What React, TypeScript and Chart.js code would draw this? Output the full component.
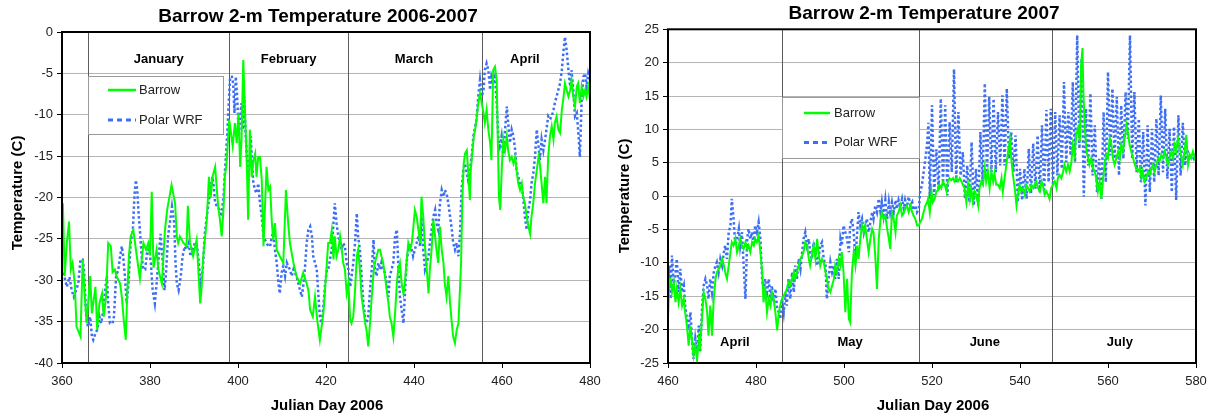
import React, { useEffect, useRef } from "react";
import { Chart, registerables } from "chart.js";

Chart.register(...registerables);

type Pt = [number, number];

// ---------- Left panel: Julian day 2006 vs temperature (C) ----------
const leftBarrow: Pt[] = [
  [360.2,-20.7],[360.6,-29.5],[361.1,-25.5],[361.6,-22.9],[362.0,-28.7],[362.4,-27.9],[362.9,-30.4],[363.3,-35.6],[364.2,-36.8],[364.7,-27.5],
  [365.2,-32.0],[365.6,-35.2],[366.4,-29.5],[366.8,-34.0],[367.6,-30.8],[368.0,-36.0],[368.5,-32.8],[369.1,-31.6],[369.5,-34.4],[370.0,-32.0],
  [370.5,-25.5],[371.1,-25.9],[371.5,-29.0],[372.0,-28.7],[372.4,-29.5],[373.2,-30.4],[373.6,-32.0],[374.1,-35.2],[374.5,-37.2],[374.8,-32.0],
  [375.2,-27.1],[375.6,-24.7],[376.2,-23.9],[377.0,-27.1],[377.7,-29.8],[378.5,-25.5],[379.1,-26.3],[379.6,-25.5],[380.0,-27.0],[380.4,-19.3],
  [380.8,-28.5],[381.5,-26.3],[381.9,-28.7],[382.7,-30.4],[383.4,-23.9],[383.9,-21.5],[384.9,-18.5],[385.7,-20.7],[386.1,-24.7],[386.4,-25.5],
  [386.8,-24.7],[387.6,-25.5],[388.3,-25.9],[388.6,-21.0],[389.1,-25.5],[389.8,-27.1],[390.6,-25.1],[391.4,-32.8],[391.7,-31.2],[392.1,-27.1],
  [392.9,-22.7],[393.4,-17.5],[393.8,-20.0],[394.2,-17.5],[394.8,-16.3],[395.2,-19.1],[395.5,-21.1],[395.9,-22.7],[396.3,-24.7],[396.7,-21.5],
  [397.0,-17.5],[397.4,-15.9],[398.0,-10.6],[398.3,-11.8],[398.8,-13.8],[399.3,-11.0],[399.7,-13.4],[400.1,-9.8],[400.5,-16.3],[400.8,-13.0],
  [401.2,-3.4],[401.6,-9.8],[402.0,-15.9],[402.3,-22.7],[402.7,-11.8],[403.1,-17.5],[403.5,-15.5],[403.9,-14.7],[404.2,-17.5],[404.6,-15.1],
  [405.0,-15.1],[405.4,-17.9],[405.8,-25.9],[406.1,-21.5],[406.5,-16.3],[406.9,-19.1],[407.3,-18.7],[407.7,-23.1],[408.0,-25.1],[408.4,-23.1],
  [408.8,-26.3],[409.5,-27.1],[410.3,-27.9],[410.9,-19.1],[411.4,-23.1],[411.8,-25.5],[412.6,-27.9],[413.3,-29.5],[414.1,-30.4],[414.8,-29.1],
  [415.6,-30.4],[416.0,-31.2],[416.4,-33.6],[417.0,-34.4],[417.5,-32.0],[418.0,-34.8],[418.6,-37.2],[419.4,-34.0],[420.2,-27.9],[420.5,-25.5],
  [420.9,-25.5],[421.3,-24.0],[421.7,-27.5],[422.0,-24.7],[422.4,-27.1],[422.8,-26.3],[423.2,-24.7],[423.6,-26.3],[423.9,-27.9],[424.3,-28.7],
  [424.7,-31.6],[425.1,-30.4],[425.5,-34.8],[425.8,-35.2],[426.2,-34.4],[426.6,-31.2],[427.0,-27.1],[427.3,-26.3],[427.7,-28.7],[428.1,-32.0],
  [428.5,-33.6],[428.9,-35.2],[429.2,-36.0],[429.6,-38.0],[430.0,-35.2],[430.4,-32.0],[430.8,-29.1],[431.1,-27.9],[431.5,-27.1],[431.9,-26.3],
  [432.3,-26.3],[432.6,-27.1],[433.0,-27.9],[433.4,-29.5],[433.8,-31.2],[434.2,-32.8],[434.5,-34.4],[434.9,-35.2],[435.3,-36.8],[435.7,-34.0],
  [436.1,-30.4],[436.4,-28.7],[436.8,-27.9],[437.2,-30.4],[437.6,-31.6],[437.9,-30.4],[438.3,-27.9],[438.7,-25.5],[439.1,-26.3],[439.5,-25.5],
  [439.8,-23.9],[440.2,-21.5],[440.6,-22.3],[441.0,-23.9],[441.4,-25.5],[441.7,-19.9],[442.1,-22.3],[442.5,-25.9],[442.9,-28.7],[443.3,-31.6],
  [443.6,-28.7],[444.0,-26.3],[444.4,-22.7],[444.8,-24.7],[445.1,-26.3],[445.5,-27.9],[445.9,-23.5],[446.3,-26.3],[446.7,-27.9],[447.0,-30.4],
  [447.4,-32.0],[447.8,-29.5],[448.2,-32.8],[448.6,-35.2],[448.9,-36.8],[449.3,-37.6],[449.7,-36.0],[450.1,-35.2],[450.5,-30.4],[450.7,-27.9],
  [451.0,-19.9],[451.3,-15.9],[451.6,-14.7],[452.0,-14.3],[452.3,-16.7],[452.7,-20.3],[452.9,-16.7],[453.3,-14.3],[453.6,-12.6],[453.9,-11.8],
  [454.2,-10.6],[454.6,-8.6],[455.0,-7.4],[455.4,-8.6],[455.8,-9.8],[456.1,-11.0],[456.5,-9.4],[456.9,-11.8],[457.3,-13.4],[457.6,-15.5],
  [458.0,-4.6],[458.4,-4.2],[458.8,-5.8],[459.0,-11.8],[459.3,-19.9],[459.6,-21.5],[460.0,-15.9],[460.3,-13.0],[460.7,-14.3],[461.1,-12.6],
  [461.4,-14.3],[461.8,-15.5],[462.2,-15.1],[462.6,-15.9],[463.0,-15.1],[463.3,-16.7],[463.7,-18.3],[464.1,-19.1],[464.5,-18.3],[464.8,-19.9],
  [465.2,-20.7],[465.6,-22.3],[466.0,-23.5],[466.4,-24.4],[466.7,-22.3],[467.1,-20.7],[467.5,-18.3],[467.9,-16.7],[468.3,-15.1],[468.6,-15.9],
  [469.0,-18.3],[469.4,-20.7],[469.8,-17.5],[470.1,-20.7],[470.5,-15.1],[470.9,-12.6],[471.3,-11.4],[471.7,-13.0],[472.0,-11.0],[472.4,-10.2],
  [472.8,-11.8],[473.2,-12.2],[473.6,-9.4],[474.0,-7.8],[474.3,-6.2],[474.7,-7.0],[475.1,-7.8],[475.5,-7.0],[475.8,-5.8],[476.2,-7.8],
  [476.6,-9.0],[477.0,-6.6],[477.3,-6.2],[477.7,-8.6],[478.1,-6.6],[478.5,-7.8],[478.9,-7.0],[479.2,-7.8],[479.6,-6.6],[480.0,-8.2]
];

const leftWrf: Pt[] = [
  [360.2,-29.1],[360.7,-29.9],[361.1,-30.8],[361.7,-29.6],[362.2,-31.2],[362.7,-32.0],[363.2,-31.2],[363.7,-30.4],[364.2,-27.5],[364.7,-27.5],
  [365.0,-28.7],[365.5,-34.4],[365.9,-35.6],[366.4,-34.4],[366.8,-36.8],[367.1,-37.2],[367.6,-36.4],[368.0,-36.0],[368.5,-34.4],[368.9,-35.2],
  [369.4,-33.6],[369.8,-31.2],[370.2,-29.5],[370.5,-32.8],[370.9,-35.2],[371.5,-35.2],[371.8,-34.4],[372.3,-29.5],[372.8,-28.7],[373.2,-27.1],
  [373.6,-25.9],[373.9,-27.1],[374.3,-29.5],[374.7,-32.8],[375.1,-30.4],[375.6,-25.5],[376.1,-23.9],[376.5,-19.5],[376.8,-17.9],[377.1,-19.1],
  [377.4,-21.9],[377.7,-23.9],[378.1,-27.1],[378.5,-28.7],[378.9,-28.7],[379.4,-26.3],[379.8,-26.3],[380.2,-27.9],[380.6,-31.2],[381.1,-32.8],
  [381.5,-30.4],[382.0,-27.1],[382.4,-24.4],[382.9,-27.9],[383.3,-31.2],[383.6,-29.5],[384.1,-24.7],[384.5,-23.1],[385.0,-21.1],[385.5,-23.1],
  [385.8,-27.9],[386.1,-30.4],[386.5,-31.2],[387.0,-29.5],[387.4,-27.1],[387.9,-25.9],[388.3,-26.3],[388.8,-25.5],[389.2,-27.1],[389.7,-26.3],
  [390.2,-25.5],[390.6,-25.5],[391.1,-27.9],[391.5,-30.4],[392.0,-28.7],[392.4,-24.7],[392.9,-22.3],[393.3,-20.7],[393.8,-18.7],[394.2,-17.5],
  [394.5,-18.7],[394.8,-20.7],[395.3,-21.1],[395.8,-21.5],[396.2,-22.3],[396.7,-19.9],[397.0,-17.1],[397.3,-14.7],[397.6,-11.8],[397.9,-8.6],
  [398.2,-5.4],[398.6,-5.4],[398.9,-6.2],[399.2,-9.8],[399.5,-5.4],[399.8,-7.8],[400.2,-12.6],[400.5,-10.2],[400.8,-8.6],[401.1,-11.8],
  [401.4,-7.8],[401.7,-11.8],[402.0,-15.1],[402.3,-17.1],[402.6,-15.9],[402.9,-12.6],[403.2,-15.9],[403.5,-18.3],[403.9,-19.1],[404.2,-19.5],
  [404.6,-18.3],[405.0,-20.7],[405.4,-22.3],[405.8,-24.7],[406.1,-25.1],[406.5,-25.5],[406.9,-25.9],[407.3,-25.9],[407.7,-24.7],[408.0,-24.3],
  [408.4,-26.3],[408.8,-27.9],[409.2,-30.4],[409.5,-31.6],[409.9,-29.1],[410.3,-28.3],[410.7,-29.5],[411.1,-27.9],[411.4,-28.3],[411.8,-28.7],
  [412.2,-29.5],[412.6,-28.7],[413.3,-29.5],[413.7,-30.4],[414.1,-31.2],[414.5,-32.0],[414.8,-30.8],[415.2,-28.7],[415.6,-25.5],[416.0,-23.9],
  [416.4,-23.5],[416.8,-24.7],[417.1,-27.1],[417.5,-27.9],[417.9,-28.7],[418.3,-32.0],[418.6,-34.4],[419.0,-35.2],[419.4,-33.2],[419.8,-30.4],
  [420.2,-28.7],[420.5,-28.7],[421.3,-26.3],[422.0,-20.7],[422.4,-23.1],[422.8,-24.7],[423.2,-25.5],[423.6,-26.3],[423.9,-25.5],[424.3,-25.9],
  [424.7,-27.9],[425.1,-28.7],[425.5,-30.8],[425.8,-29.6],[426.2,-27.9],[426.6,-25.5],[427.0,-21.9],[427.3,-24.7],[427.7,-26.3],[428.1,-29.5],
  [428.5,-32.8],[428.9,-34.4],[429.2,-35.2],[429.6,-34.4],[430.0,-31.2],[430.4,-28.7],[430.8,-25.1],[431.1,-28.7],[431.5,-29.5],[431.9,-27.9],
  [432.3,-28.7],[432.6,-27.9],[433.0,-28.7],[433.4,-29.1],[433.8,-30.4],[434.2,-32.0],[434.5,-29.5],[434.9,-28.7],[435.3,-27.9],[435.7,-24.7],
  [436.1,-23.9],[436.4,-27.9],[436.8,-32.0],[437.2,-33.6],[437.6,-35.2],[437.9,-32.0],[438.3,-27.9],[438.7,-26.3],[439.1,-25.5],[439.5,-26.3],
  [439.8,-27.1],[440.2,-26.3],[440.6,-25.5],[441.0,-24.7],[441.4,-25.9],[441.7,-22.3],[442.1,-26.3],[442.5,-28.7],[442.9,-27.9],[443.3,-27.1],
  [443.6,-25.5],[444.0,-23.9],[444.4,-22.3],[444.8,-21.5],[445.1,-23.1],[445.5,-23.9],[445.9,-20.7],[446.3,-19.1],[446.7,-19.9],[447.0,-19.1],
  [447.4,-19.5],[447.8,-20.7],[448.2,-22.3],[448.6,-23.9],[448.9,-25.5],[449.3,-26.3],[449.7,-25.5],[450.1,-27.1],[450.5,-23.9],[450.8,-19.1],
  [451.2,-16.7],[451.6,-15.9],[452.0,-17.1],[452.3,-17.9],[452.7,-16.7],[453.1,-15.1],[453.5,-12.6],[453.9,-11.4],[454.2,-10.6],[454.6,-7.8],
  [455.0,-5.8],[455.4,-7.8],[455.8,-7.0],[456.1,-4.6],[456.5,-3.8],[456.9,-4.6],[457.3,-7.0],[457.6,-5.4],[458.0,-6.2],[458.4,-5.4],
  [458.8,-8.6],[459.2,-13.0],[459.5,-13.8],[459.9,-12.6],[460.3,-15.1],[460.7,-11.8],[461.1,-9.0],[461.4,-11.0],[461.8,-13.4],[462.2,-11.8],
  [462.6,-12.6],[463.0,-14.3],[463.3,-16.7],[463.7,-17.5],[464.1,-18.3],[464.5,-18.7],[464.8,-19.9],[465.2,-22.3],[465.6,-23.9],[466.0,-21.5],
  [466.4,-20.3],[466.7,-18.3],[467.1,-17.1],[467.5,-15.1],[467.9,-11.8],[468.3,-13.8],[468.6,-15.5],[469.0,-13.0],[469.4,-14.3],[469.8,-13.0],
  [470.1,-11.8],[470.5,-10.2],[470.9,-10.6],[471.3,-10.2],[471.7,-9.4],[472.0,-8.6],[472.4,-7.8],[472.8,-7.0],[473.2,-6.2],[473.6,-4.6],
  [474.0,-2.2],[474.3,-0.6],[474.7,-2.2],[475.1,-4.6],[475.5,-6.6],[475.8,-4.6],[476.2,-7.0],[476.6,-10.2],[477.0,-9.8],[477.3,-11.8],
  [477.7,-15.1],[478.1,-8.2],[478.5,-5.4],[478.9,-5.0],[479.2,-6.6],[479.6,-5.0],[480.0,-5.8]
];

// ---------- Right panel ----------
const rightBarrow: Pt[] = [
  [460.0,-18.4],[460.3,-12.4],[460.6,-12.4],[460.9,-14.4],[461.3,-12.9],[461.7,-15.9],[462.0,-13.9],[462.4,-15.9],[462.8,-13.9],[463.2,-16.4],
  [463.6,-15.4],[463.9,-17.4],[464.3,-19.4],[464.7,-22.4],[465.1,-19.4],[465.5,-21.9],[465.8,-23.9],[466.2,-22.4],[466.6,-24.6],[467.0,-21.4],
  [467.3,-22.4],[467.7,-18.4],[468.1,-14.4],[468.5,-15.4],[468.9,-17.4],[469.2,-20.9],[469.6,-16.4],[470.0,-20.9],[470.4,-15.4],[470.8,-12.4],
  [471.1,-11.4],[471.5,-10.9],[471.9,-10.4],[472.3,-9.4],[472.7,-10.4],[473.0,-11.4],[473.4,-12.4],[473.8,-10.4],[474.2,-8.4],[474.5,-6.9],
  [474.9,-7.4],[475.3,-6.4],[475.7,-8.4],[476.1,-7.4],[476.4,-6.4],[476.8,-7.4],[477.2,-7.9],[477.6,-6.9],[478.0,-7.9],[478.3,-7.4],
  [478.7,-8.4],[479.1,-6.9],[479.5,-7.4],[479.8,-6.4],[480.2,-6.9],[480.6,-5.9],[481.0,-8.4],[481.4,-11.4],[481.7,-15.9],[482.1,-13.9],
  [482.5,-17.4],[482.9,-15.4],[483.3,-16.4],[483.6,-14.4],[484.0,-15.4],[484.4,-17.4],[484.8,-20.1],[485.2,-17.4],[485.5,-16.4],[485.9,-15.4],
  [486.3,-14.9],[486.7,-14.4],[487.0,-13.9],[487.4,-12.9],[487.8,-13.4],[488.2,-12.4],[488.6,-11.4],[488.9,-12.4],[489.3,-11.4],[489.7,-10.4],
  [490.1,-9.4],[490.5,-8.9],[490.8,-8.4],[491.2,-6.9],[491.6,-7.4],[492.0,-9.4],[492.3,-10.4],[492.7,-8.9],[493.1,-7.4],[493.5,-9.4],
  [493.9,-6.4],[494.2,-8.4],[494.6,-10.4],[495.0,-9.4],[495.4,-9.9],[495.8,-11.4],[496.1,-12.4],[496.5,-13.9],[496.9,-14.4],[497.3,-13.4],
  [497.7,-12.4],[498.0,-10.4],[498.4,-11.4],[498.8,-9.4],[499.2,-10.4],[499.5,-8.4],[499.9,-11.4],[500.3,-17.4],[500.7,-12.4],[501.1,-18.4],
  [501.4,-18.9],[501.8,-11.4],[502.2,-8.4],[502.6,-10.4],[503.0,-7.4],[503.3,-9.4],[503.7,-6.4],[504.1,-4.4],[504.5,-5.4],[504.8,-4.4],
  [505.2,-6.4],[505.6,-8.4],[506.0,-6.4],[506.4,-4.9],[506.7,-5.4],[507.1,-8.9],[507.5,-13.9],[507.9,-6.4],[508.3,-3.4],[508.6,-2.4],
  [509.0,-3.4],[509.4,-2.9],[509.8,-4.9],[510.2,-6.4],[510.5,-7.9],[510.9,-2.4],[511.3,-3.4],[511.7,-5.4],[512.0,-2.9],[512.4,-2.4],
  [512.8,-1.4],[513.2,-2.9],[513.6,-2.4],[513.9,-1.9],[514.3,-1.4],[514.7,-2.4],[515.1,-1.4],[515.5,-2.4],[515.8,-2.9],[516.2,-3.4],
  [516.6,-4.4],[517.0,-4.4],[517.3,-3.9],[517.7,-3.4],[518.1,-2.4],[518.5,-1.4],[518.9,-0.9],
  [519.1,-0.4],[519.5,-2.4],[519.9,0.7],[520.2,-0.9],[520.6,-0.4],[521.0,0.7],[521.4,0.9],[521.7,1.7],[522.1,1.2],[522.5,2.2],
  [522.9,1.7],[523.3,0.7],[523.6,2.2],[524.0,2.7],[524.4,2.4],[524.8,2.7],[525.1,2.2],[525.5,2.7],[525.9,2.2],[526.3,2.7],
  [526.7,2.2],[527.0,1.7],[527.4,1.2],[527.8,-0.9],[528.2,1.7],[528.6,-0.4],[528.9,1.2],[529.3,-0.9],[529.7,0.7],[530.1,0.2],
  [530.5,-1.4],[530.8,1.2],[531.2,2.2],[531.6,1.7],[532.0,4.2],[532.3,2.2],[532.7,3.7],[533.1,1.2],[533.5,3.7],[533.9,2.2],
  [534.2,3.4],[534.6,1.7],[535.0,1.7],[535.4,1.2],[535.8,2.7],[536.1,0.7],[536.5,2.7],[536.9,4.7],[537.3,6.7],[537.7,8.4],
  [538.0,5.7],[538.4,3.2],[538.8,1.2],[539.2,-1.4],[539.5,0.2],[539.9,1.7],[540.3,0.7],[540.7,1.2],[541.1,0.2],[541.4,1.7],
  [541.8,1.2],[542.2,0.7],[542.6,1.7],[543.0,1.2],[543.3,1.7],[543.7,2.2],[544.1,1.2],[544.5,0.7],[544.9,2.2],[545.2,1.7],
  [545.6,0.2],[546.0,0.7],[546.4,0.2],[546.7,-0.4],[547.1,1.2],[547.5,1.7],[547.9,2.2],[548.3,1.2],[548.6,2.7],[549.0,3.2],
  [549.4,2.7],[549.8,3.7],[550.1,4.7],[550.5,3.7],[550.9,4.7],[551.3,3.7],[551.7,5.2],[552.0,7.7],[552.4,6.2],[552.8,9.2],
  [553.2,10.2],[553.6,8.2],[553.9,19.7],[554.2,22.2],[554.4,15.7],[554.7,10.7],[555.1,6.7],[555.5,5.7],[555.8,4.7],[556.2,5.7],
  [556.6,4.2],[557.0,3.7],[557.3,2.7],[557.7,0.7],[558.1,2.2],[558.5,-0.4],[558.9,2.7],[559.2,4.7],[559.6,6.2],[560.0,5.7],
  [560.4,8.7],[560.8,7.7],[561.1,5.7],[561.5,4.7],[561.9,5.7],[562.3,6.7],[562.7,5.7],[563.0,7.7],[563.4,6.7],[563.8,8.7],
  [564.2,10.7],[564.5,9.7],[564.9,7.7],[565.3,6.7],[565.7,5.7],[566.1,4.7],[566.4,4.2],[566.8,3.7],[567.2,4.2],[567.6,2.7],
  [567.9,3.7],[568.3,2.2],[568.7,2.7],[569.1,3.7],[569.5,3.2],[569.9,4.2],[570.2,4.7],[570.6,3.7],[571.0,4.7],[571.4,5.7],
  [571.7,5.2],[572.1,6.2],[572.5,5.7],[572.9,6.7],[573.3,5.7],[573.6,4.7],[574.0,5.7],[574.4,6.7],[574.8,5.7],[575.1,7.7],
  [575.5,6.7],[575.9,8.7],[576.3,7.2],[576.7,5.7],[577.0,4.7],[577.4,6.7],[577.8,9.2],[578.2,4.7],[578.6,6.2],[578.9,5.7],
  [579.3,6.7],[579.7,5.7],[580.0,6.2]
];

const rightWrf: Pt[] = [
  [460.0,-13.4],[460.3,-10.4],[460.6,-15.4],[460.9,-8.9],[461.3,-13.4],[461.7,-11.4],[462.0,-9.4],[462.4,-14.4],[462.8,-10.9],[463.2,-14.4],
  [463.6,-13.4],[463.9,-16.4],[464.3,-18.4],[464.7,-19.4],[465.1,-17.4],[465.5,-21.9],[465.8,-24.4],[466.2,-21.4],[466.6,-23.4],[467.0,-19.4],
  [467.3,-23.4],[467.7,-17.4],[468.1,-13.4],[468.5,-12.4],[468.9,-13.4],[469.2,-15.4],[469.6,-12.4],[470.0,-14.4],[470.4,-11.4],[470.8,-10.4],
  [471.1,-9.9],[471.5,-11.4],[471.9,-9.4],[472.3,-10.4],[472.7,-8.4],[473.0,-7.4],[473.4,-9.4],[473.8,-5.4],[474.2,-4.4],[474.5,-0.4],
  [474.9,-3.4],[475.3,-7.4],[475.7,-6.4],[476.1,-4.9],[476.4,-7.4],[476.8,-5.4],[477.2,-10.4],[477.6,-15.4],[478.0,-6.4],[478.3,-4.9],
  [478.7,-6.4],[479.1,-5.4],[479.5,-7.4],[479.8,-4.4],[480.2,-5.4],[480.6,-3.9],[481.0,-6.4],[481.4,-12.4],[481.7,-13.9],[482.1,-12.4],
  [482.5,-14.4],[482.9,-12.4],[483.3,-15.4],[483.6,-13.4],[484.0,-15.9],[484.4,-13.9],[484.8,-16.9],[485.2,-17.4],[485.5,-18.4],[485.9,-15.4],
  [486.3,-17.4],[486.7,-14.4],[487.0,-16.4],[487.4,-12.4],[487.8,-15.4],[488.2,-11.4],[488.6,-14.4],[488.9,-10.4],[489.3,-12.4],[489.7,-9.4],
  [490.1,-10.9],[490.5,-8.4],[490.8,-6.4],[491.2,-5.4],[491.6,-7.4],[492.0,-6.4],[492.3,-8.4],[492.7,-9.4],[493.1,-6.9],[493.5,-8.4],
  [493.9,-10.4],[494.2,-9.4],[494.6,-7.4],[495.0,-6.9],[495.4,-9.4],[495.8,-10.4],[496.1,-15.4],[496.5,-12.4],[496.9,-9.9],[497.3,-11.4],
  [497.7,-10.4],[498.0,-12.4],[498.4,-9.4],[498.8,-12.4],[499.2,-6.4],[499.5,-7.4],[499.9,-4.4],[500.3,-5.4],[500.7,-6.4],[501.1,-8.4],
  [501.4,-4.4],[501.8,-3.4],[502.2,-5.4],[502.6,-9.4],[503.0,-5.4],[503.3,-2.4],[503.7,-4.4],[504.1,-3.4],[504.5,-5.4],[504.8,-4.4],
  [505.2,-3.4],[505.6,-5.4],[506.0,-3.9],[506.4,-2.4],[506.7,-3.4],[507.1,-1.4],[507.5,-2.4],[507.9,-0.4],[508.3,-2.4],[508.6,-0.9],
  [509.0,-2.9],[509.4,-0.6],[509.8,-3.4],[510.2,-0.9],[510.5,-2.4],[510.9,-0.9],[511.3,-2.4],[511.7,-0.6],[512.0,-1.9],[512.4,-0.6],
  [512.8,-1.6],[513.2,-0.4],[513.6,-1.9],[513.9,-0.6],[514.3,-1.6],[514.7,-0.1],[515.1,-1.4],[515.5,-0.9],[515.8,-2.1],[516.2,-1.4],
  [516.6,-2.4],[517.0,-1.9],[517.3,0.6],[517.7,1.6],[518.1,3.6],[518.5,5.6],[518.9,8.0],[519.2,11.0],
  [519.5,-0.4],[520.0,13.6],[520.5,0.1],[521.0,7.0],[521.5,0.9],[522.0,14.6],[522.5,1.6],[523.0,13.6],[523.5,0.1],[524.0,11.1],
  [524.5,3.6],[525.0,19.0],[525.5,2.1],[526.0,12.6],[526.5,3.1],[527.0,6.6],[527.5,-0.4],[528.0,4.6],[528.5,-0.9],[529.0,8.1],
  [529.5,-1.4],[530.0,4.1],[530.5,-1.4],[531.0,9.6],[531.5,2.1],[532.0,16.9],[532.5,3.1],[533.0,14.9],[533.5,3.6],[534.0,14.6],
  [534.5,3.6],[535.0,12.6],[535.5,4.6],[536.0,15.1],[536.5,4.6],[537.0,16.1],[537.5,5.6],[538.0,9.6],[538.5,3.6],[539.0,9.1],
  [539.5,-0.9],[540.0,4.1],[540.5,-0.6],[541.0,4.1],[541.5,-0.4],[542.0,7.1],[542.5,0.4],[543.0,7.9],[543.5,1.1],[544.0,9.1],
  [544.5,0.6],[545.0,10.6],[545.5,0.6],[546.0,12.9],[546.5,2.1],[547.0,13.1],[547.5,1.6],[548.0,12.6],[548.5,3.1],[549.0,12.1],
  [549.5,4.1],[550.0,17.1],[550.5,5.1],[551.0,12.6],[551.5,6.1],[552.0,17.1],[552.5,5.1],[553.0,24.1],[553.5,7.1],[554.0,20.6],
  [554.5,-0.1],[555.0,13.1],[555.5,4.6],[556.0,15.4],[556.5,3.1],[557.0,10.6],[557.5,0.6],[558.0,5.6],[558.5,-0.4],[559.0,12.6],
  [559.5,2.1],[560.0,18.6],[560.5,6.1],[561.0,16.1],[561.5,5.6],[562.0,14.9],[562.5,3.1],[563.0,13.6],[563.5,5.6],[564.0,15.6],
  [564.5,8.6],[565.0,24.1],[565.5,5.6],[566.0,15.6],[566.5,3.6],[567.0,11.6],[567.5,2.1],[568.0,9.6],[568.5,-1.4],[569.0,10.6],
  [569.5,0.6],[570.0,10.1],[570.5,2.1],[571.0,11.6],[571.5,3.1],[572.0,15.1],[572.5,3.6],[573.0,13.1],[573.5,2.6],[574.0,10.1],
  [574.5,0.6],[575.0,10.4],[575.5,-0.6],[576.0,12.1],[576.5,3.1],[577.0,11.0],[577.5,4.6],[578.0,7.0],[578.5,5.6],[579.0,6.1],
  [579.5,5.6],[580.0,6.4]
];

// ---------- Labels / axes ----------
const seriesNames = ["Barrow", "Polar WRF"];
const leftTitle = "Barrow 2-m Temperature 2006-2007";
const rightTitle = "Barrow 2-m Temperature 2007";
const xAxisTitle = "Julian Day 2006";
const yAxisTitle = "Temperature (C)";
const leftXRange = [360, 480];
const rightXRange = [460, 580];
const leftYRange = [-40, 0];
const rightYRange = [-25, 25];
const xTickStep = 20;
const yTickStep = 5;
const leftMonthBounds = [366, 398, 425, 455.5];
const leftMonthNames = ["January", "February", "March", "April"];
const leftMonthCentres = [382, 411.5, 440, 465.2];
const rightMonthBounds = [486, 517, 547.3];
const rightMonthNames = ["April", "May", "June", "July"];
const rightMonthCentres = [475.2, 501.4, 532, 562.7];

const FONT = '"Liberation Sans", Arial, Helvetica, sans-serif';
const GREEN = "#00ff00";
const BLUE = "#3d6ff4";

interface Spec {
  title: string;
  barrow: Pt[];
  wrf: Pt[];
  xr: number[];
  yr: number[];
  monthBounds: number[];
  monthNames: string[];
  monthCentres: number[];
  monthLabelY: number;
  legend: { x: number; y: number; w: number; h: number; lx0: number; lx1: number; r0: number; r1: number; tx: number };
  offset: number;
  axisW: number;
  padRight: number;
  padTop: number;
  titleX: number;
  titleY: number;
  xTitleX: number;
  yTitleY: number;
}

const CW = 607;
const CH = 420;

const specs: Spec[] = [
  {
    title: leftTitle, barrow: leftBarrow, wrf: leftWrf, xr: leftXRange, yr: leftYRange,
    monthBounds: leftMonthBounds, monthNames: leftMonthNames, monthCentres: leftMonthCentres, monthLabelY: 59,
    legend: { x: 88, y: 76, w: 135, h: 58, lx0: 108, lx1: 136, r0: 90, r1: 120, tx: 139 },
    offset: 0, axisW: 62, padRight: 17, padTop: 32, titleX: 318, titleY: 17, xTitleX: 327, yTitleY: 193,
  },
  {
    title: rightTitle, barrow: rightBarrow, wrf: rightWrf, xr: rightXRange, yr: rightYRange,
    monthBounds: rightMonthBounds, monthNames: rightMonthNames, monthCentres: rightMonthCentres, monthLabelY: 342.5,
    legend: { x: 175, y: 97, w: 137, h: 61, lx0: 197, lx1: 223, r0: 113, r1: 142.5, tx: 227 },
    offset: 607, axisW: 61, padRight: 18, padTop: 29.3, titleX: 317, titleY: 14, xTitleX: 326, yTitleY: 196,
  },
];

function decor(spec: Spec) {
  return {
    id: "decor",
    beforeDatasetsDraw(chart: any) {
      const { ctx, chartArea: a } = chart;
      const xs = chart.scales.x;
      ctx.save();
      ctx.strokeStyle = "#5c5c5c";
      ctx.lineWidth = 1;
      spec.monthBounds.forEach((d) => {
        const px = Math.round(xs.getPixelForValue(d)) + 0.5;
        ctx.beginPath();
        ctx.moveTo(px, a.top);
        ctx.lineTo(px, a.bottom);
        ctx.stroke();
      });
      ctx.restore();
    },
    afterDatasetsDraw(chart: any) {
      const { ctx, chartArea: a } = chart;
      const xs = chart.scales.x;
      ctx.save();
      ctx.fillStyle = "#000";
      ctx.font = `bold 13px ${FONT}`;
      ctx.textAlign = "center";
      ctx.textBaseline = "middle";
      spec.monthNames.forEach((n, i) => {
        ctx.fillText(n, xs.getPixelForValue(spec.monthCentres[i]), spec.monthLabelY);
      });
      const L = spec.legend;
      ctx.fillStyle = "#fff";
      ctx.fillRect(L.x, L.y, L.w, L.h);
      ctx.strokeStyle = "#9a9a9a";
      ctx.lineWidth = 1;
      ctx.strokeRect(L.x + 0.5, L.y + 0.5, L.w, L.h);
      ctx.lineWidth = 2.5;
      ctx.strokeStyle = GREEN;
      ctx.beginPath();
      ctx.moveTo(L.lx0, L.r0);
      ctx.lineTo(L.lx1, L.r0);
      ctx.stroke();
      ctx.strokeStyle = BLUE;
      ctx.lineWidth = 3;
      ctx.setLineDash([5, 4]);
      ctx.beginPath();
      ctx.moveTo(L.lx0, L.r1);
      ctx.lineTo(L.lx1, L.r1);
      ctx.stroke();
      ctx.setLineDash([]);
      ctx.fillStyle = "#222";
      ctx.font = `13px ${FONT}`;
      ctx.textAlign = "left";
      ctx.fillText(seriesNames[0], L.tx, L.r0);
      ctx.fillText(seriesNames[1], L.tx, L.r1);
      ctx.strokeStyle = "#000";
      ctx.lineWidth = 2;
      ctx.strokeRect(a.left, a.top, a.right - a.left, a.bottom - a.top);
      ctx.restore();
    },
    afterDraw(chart: any) {
      const { ctx } = chart;
      ctx.save();
      ctx.fillStyle = "#000";
      ctx.textAlign = "center";
      ctx.textBaseline = "middle";
      ctx.font = `bold 19px ${FONT}`;
      ctx.fillText(spec.title, spec.titleX, spec.titleY);
      ctx.font = `bold 15px ${FONT}`;
      ctx.fillText(xAxisTitle, spec.xTitleX, 406);
      ctx.translate(18, spec.yTitleY);
      ctx.rotate(-Math.PI / 2);
      ctx.fillText(yAxisTitle, 0, 0);
      ctx.restore();
    },
  };
}

function Panel({ spec }: { spec: Spec }) {
  const ref = useRef<HTMLCanvasElement>(null);
  useEffect(() => {
    const tickFont = { family: FONT, size: 13 };
    const chart = new Chart(ref.current as HTMLCanvasElement, {
      type: "line",
      data: {
        datasets: [
          {
            label: seriesNames[0],
            data: spec.barrow.map(([x, y]) => ({ x, y })),
            borderColor: GREEN,
            borderWidth: 2,
            pointRadius: 0,
            tension: 0,
            fill: false,
          },
          {
            label: seriesNames[1],
            data: spec.wrf.map(([x, y]) => ({ x, y })),
            borderColor: BLUE,
            borderWidth: 2.5,
            borderDash: [2.5, 2.5],
            pointRadius: 0,
            tension: 0,
            fill: false,
          },
        ],
      },
      options: {
        responsive: false,
        animation: false,
        devicePixelRatio: 1,
        layout: { padding: { top: spec.padTop, right: spec.padRight, left: 0, bottom: 0 } },
        plugins: { legend: { display: false }, tooltip: { enabled: false }, title: { display: false } },
        scales: {
          x: {
            type: "linear",
            min: spec.xr[0],
            max: spec.xr[1],
            ticks: { stepSize: xTickStep, font: tickFont, color: "#222", padding: 6, maxRotation: 0, autoSkip: false },
            grid: { drawOnChartArea: false, drawTicks: true, tickLength: 5, tickColor: "#000" },
            border: { display: false },
            afterFit: (s: any) => { s.height = 57; },
          },
          y: {
            type: "linear",
            min: spec.yr[0],
            max: spec.yr[1],
            ticks: { stepSize: yTickStep, font: tickFont, color: "#222", padding: 4 },
            grid: { color: "#b4b4b4", lineWidth: 1, drawTicks: true, tickLength: 5, tickColor: "#000" },
            border: { display: false },
            afterFit: (s: any) => { s.width = spec.axisW; },
          },
        },
      } as any,
      plugins: [decor(spec)],
    });
    return () => chart.destroy();
  }, []);
  return (
    <div style={{ position: "absolute", left: spec.offset, top: 0, width: CW, height: CH }}>
      <canvas ref={ref} width={CW} height={CH} style={{ display: "block", width: CW, height: CH }} />
    </div>
  );
}

export default function App() {
  return (
    <div style={{ position: "fixed", left: 0, top: 0, width: 1214, height: 420, background: "#fff", overflow: "hidden" }}>
      {specs.map((s, i) => (
        <Panel key={i} spec={s} />
      ))}
    </div>
  );
}
